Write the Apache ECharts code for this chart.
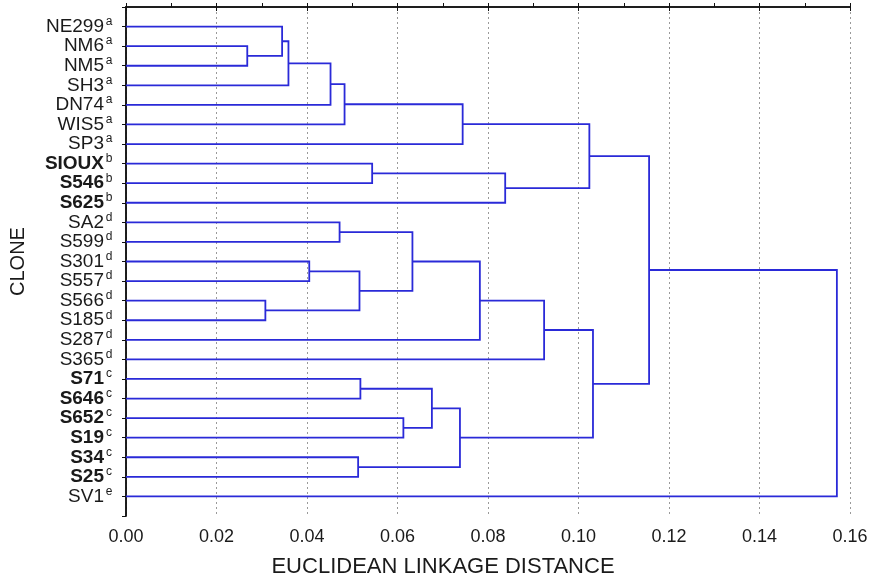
<!DOCTYPE html>
<html>
<head>
<meta charset="utf-8">
<script src="https://cdn.jsdelivr.net/npm/echarts@6/dist/echarts.min.js"></script>
<style>
  html, body { margin: 0; padding: 0; background: #fff; }
  #dendro { width: 872px; height: 584px; }
</style>
</head>
<body>
<div id="dendro"></div>
<script>
// leaves from top to bottom, with their group letter
var leaves = ['NE299', 'NM6', 'NM5', 'SH3', 'DN74', 'WIS5', 'SP3', 'SIOUX', 'S546', 'S625',
    'SA2', 'S599', 'S301', 'S557', 'S566', 'S185', 'S287', 'S365',
    'S71', 'S646', 'S652', 'S19', 'S34', 'S25', 'SV1'];
var groups = ['a', 'a', 'a', 'a', 'a', 'a', 'a', 'b', 'b', 'b',
    'd', 'd', 'd', 'd', 'd', 'd', 'd', 'd',
    'c', 'c', 'c', 'c', 'c', 'c', 'e'];
var boldGroups = ['b', 'c'];

// merges: M0, M1, ... (children are leaf names or earlier merges)
var mergeA = ['NM6', 'NE299', 'M1', 'M2', 'M3', 'M4', 'SIOUX', 'M6', 'M5',
    'SA2', 'S301', 'S566', 'M10', 'M9', 'M13', 'M14',
    'S71', 'S652', 'M16', 'S34', 'M18', 'M15', 'M8', 'M22'];
var mergeB = ['NM5', 'M0', 'SH3', 'DN74', 'WIS5', 'SP3', 'S546', 'S625', 'M7',
    'S599', 'S557', 'S185', 'M11', 'M12', 'S287', 'S365',
    'S646', 'S19', 'M17', 'S25', 'M19', 'M20', 'M21', 'SV1'];
var mergeHeight = [0.0268, 0.0345, 0.0359, 0.0452, 0.0483, 0.0744, 0.0544, 0.0838, 0.1024,
    0.0472, 0.0405, 0.0308, 0.0516, 0.0633, 0.0782, 0.0924,
    0.0518, 0.0613, 0.0676, 0.0513, 0.0738, 0.1032, 0.1156, 0.1571];

var xTicks = [0, 0.02, 0.04, 0.06, 0.08, 0.10, 0.12, 0.14, 0.16];

// node positions: x = distance, y = row (leaves on 1..n)
var pos = {};
leaves.forEach(function (name, i) {
    pos[name] = [0, i + 1];
});
var links = [];
mergeHeight.forEach(function (h, i) {
    var a = pos[mergeA[i]], b = pos[mergeB[i]];
    links.push([a[0], a[1], b[0], b[1], h]);
    pos['M' + i] = [h, (a[1] + b[1]) / 2];
});

var FONT = '"Liberation Sans", Arial, Helvetica, sans-serif';
var LINE = '#2a2ad8';

var chart = echarts.init(document.getElementById('dendro'));
chart.setOption({
    animation: false,
    backgroundColor: '#fff',
    textStyle: { fontFamily: FONT },
    grid: { left: 124, right: 22, top: 7, bottom: 68 },
    xAxis: [{
        type: 'value',
        position: 'bottom',
        min: xTicks[0],
        max: xTicks[xTicks.length - 1],
        interval: 0.02,
        name: 'EUCLIDEAN LINKAGE DISTANCE',
        nameLocation: 'middle',
        nameGap: 40,
        nameTextStyle: { fontSize: 22, color: '#1a1a1a', fontFamily: FONT, padding: [0, 90, 0, 0] },
        axisLine: { show: true, lineStyle: { color: '#111', width: 1.5 } },
        axisTick: { show: true, inside: true, length: 4, lineStyle: { color: '#111' } },
        minorTick: { show: true, splitNumber: 2, length: 4, lineStyle: { color: '#111' } },
        axisLabel: {
            margin: 12,
            fontSize: 18,
            color: '#1a1a1a',
            fontFamily: FONT,
            formatter: function (v) { return v.toFixed(2); }
        },
        splitLine: { show: true, lineStyle: { color: '#9a9a9a', type: [2, 3], width: 1 } }
    }, {
        type: 'value',
        position: 'top',
        min: xTicks[0],
        max: xTicks[xTicks.length - 1],
        interval: 0.02,
        axisLine: { show: true, lineStyle: { color: '#111', width: 1.5 } },
        axisTick: { show: true, inside: true, length: 4, lineStyle: { color: '#111' } },
        axisLabel: { show: false },
        splitLine: { show: false }
    }],
    yAxis: [{
        type: 'value',
        position: 'left',
        inverse: true,
        min: 0,
        max: leaves.length + 1,
        interval: 1,
        name: 'CLONE',
        nameLocation: 'middle',
        nameRotate: 90,
        nameGap: 98,
        nameTextStyle: { fontSize: 20, color: '#1a1a1a', fontFamily: FONT },
        axisLine: { show: true, lineStyle: { color: '#111', width: 1.5 } },
        axisTick: { show: false },
        splitLine: { show: false },
        axisLabel: {
            margin: 12,
            formatter: function (v) {
                var i = v - 1;
                if (i < 0 || i >= leaves.length) return '';
                var g = groups[i];
                var key = boldGroups.indexOf(g) >= 0 ? 'nb' : 'n';
                return '{' + key + '|' + leaves[i] + '}{s|' + g + '}';
            },
            rich: {
                n: { fontSize: 19, lineHeight: 22, color: '#1a1a1a', fontFamily: FONT },
                nb: { fontSize: 19, lineHeight: 22, fontWeight: 'bold', color: '#1a1a1a', fontFamily: FONT },
                s: { fontSize: 12, lineHeight: 12, width: 10, align: 'center', verticalAlign: 'top', color: '#1a1a1a', fontFamily: FONT }
            }
        }
    }, {
        type: 'value',
        position: 'right',
        inverse: true,
        min: 0,
        max: leaves.length + 1,
        interval: 1,
        axisLine: { show: true, lineStyle: { color: '#111', width: 1.5 } },
        axisTick: { show: true, inside: true, length: 4, lineStyle: { color: '#111' } },
        axisLabel: { show: false },
        splitLine: { show: false }
    }],
    series: [{
        type: 'custom',
        xAxisIndex: 0,
        yAxisIndex: 0,
        data: links,
        renderItem: function (params, api) {
            var xa = api.value(0), ya = api.value(1), xb = api.value(2), yb = api.value(3), h = api.value(4);
            return {
                type: 'polyline',
                shape: {
                    points: [
                        api.coord([xa, ya]),
                        api.coord([h, ya]),
                        api.coord([h, yb]),
                        api.coord([xb, yb])
                    ]
                },
                style: { stroke: LINE, lineWidth: 1.8, fill: null }
            };
        }
    }]
});
</script>
</body>
</html>
